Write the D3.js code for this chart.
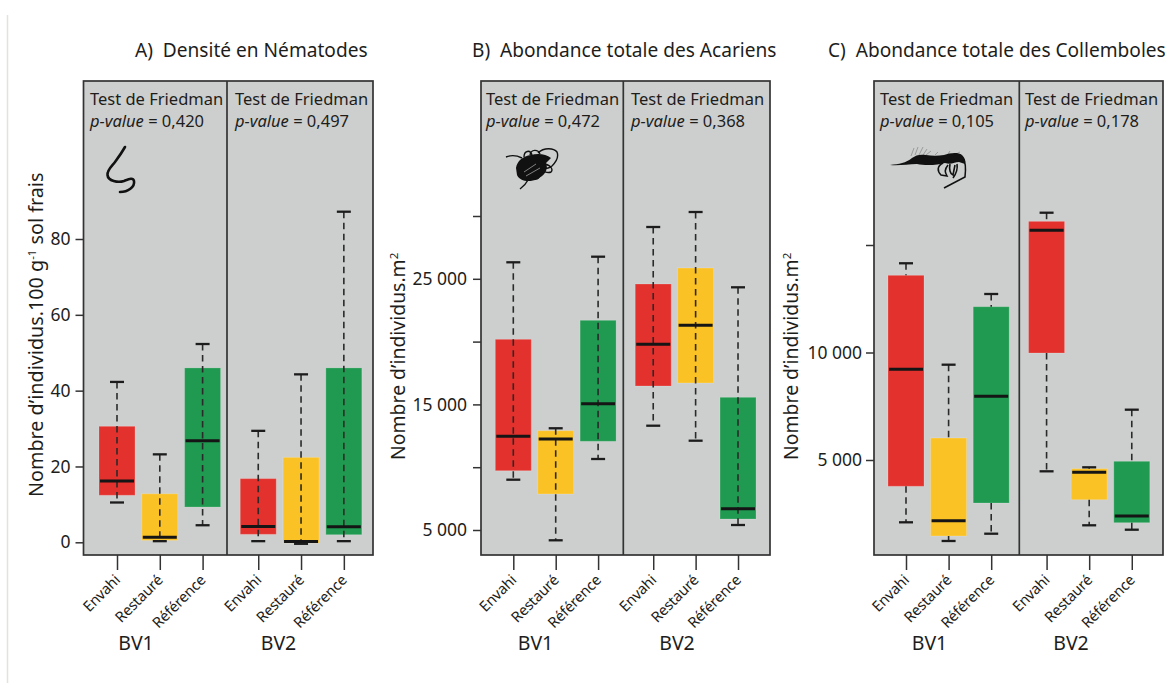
<!DOCTYPE html>
<html lang="fr"><head><meta charset="utf-8">
<script src="https://cdn.jsdelivr.net/npm/d3@7"></script>
<style>
html,body{margin:0;padding:0;background:#fff;overflow:hidden}
svg{display:block;font-family:"Noto Sans",sans-serif;fill:#1d1d1b}
text{white-space:pre}
</style></head><body>
<svg id="c" width="1165" height="683"></svg>
<script>
// ---- data ----
const categories = ["Envahi","Restauré","Référence","Envahi","Restauré","Référence"];
const basins = ["BV1","BV2"];
const boxColours = ["#e3312d","#fbc226","#1f9a50","#e3312d","#fbc226","#1f9a50"];

const nemaLow  = [10.5, 0.3, 4.5, 0.3, -0.4, 0.3];
const nemaQ1   = [12.4, 0.5, 9.3, 2.1, -0.2, 2.0];
const nemaMed  = [16.2, 1.3, 26.8, 4.2, 0.2, 4.1];
const nemaQ3   = [30.6, 12.8, 46.0, 16.8, 22.4, 46.0];
const nemaHigh = [42.3, 23.2, 52.3, 29.4, 44.3, 87.2];

const acarLow  = [9005, 4180, 10653, 13304, 12110, 5398];
const acarQ1   = [9720, 7866, 12062, 16465, 16704, 5876];
const acarMed  = [12460, 12245, 15056, 19785, 21300, 6696];
const acarQ3   = [20183, 12906, 21696, 24586, 25860, 15565];
const acarHigh = [26314, 13100, 26760, 29124, 30318, 24323];

const collLow  = [2102, 1233, 1572, 4474, 1963, 1758];
const collQ1   = [3777, 1465, 3000, 9977, 3153, 2084];
const collMed  = [9219, 2177, 7961, 15684, 4428, 2395];
const collQ3   = [13590, 6023, 12130, 16100, 4595, 4940];
const collHigh = [14150, 9433, 12721, 16502, 4660, 7340];

const nemaTicks = [0,20,40,60,80];
const acarTicks = [5000,10000,15000,20000,25000,30000];
const acarLabelled = [5000,15000,25000];
const collTicks = [5000,10000,15000];
const collLabelled = [5000,10000];

const pValues = {A:["0,420","0,497"],B:["0,472","0,368"],C:["0,105","0,178"]};

const panels = [
 {id:"A",title:"A)  Densité en Nématodes",titleX:135,left:83.5,right:373,divider:227,first:117,step:42.8,
  low:nemaLow,q1:nemaQ1,med:nemaMed,q3:nemaQ3,high:nemaHigh,
  dom:[0,80],rng:[542.3,239],ticks:nemaTicks,labelled:nemaTicks,through:true,
  yTitleX:43,yTitleY:497,yTitleSize:19.75,sup:"nema",noteX:[90,235],basinX:[136,278.5],pad:5},
 {id:"B",title:"B)  Abondance totale des Acariens",titleX:472,left:481,right:770,divider:623.3,first:513.3,step:42.4,
  low:acarLow,q1:acarQ1,med:acarMed,q3:acarQ3,high:acarHigh,
  dom:[5000,30000],rng:[530,216],ticks:acarTicks,labelled:acarLabelled,through:true,
  yTitleX:405,yTitleY:460,yTitleSize:19.4,sup:"m2",noteX:[486,631],basinX:[535.5,677],pad:6},
 {id:"C",title:"C)  Abondance totale des Collemboles",titleX:828,left:874,right:1163,divider:1019.3,first:906,step:42.6,
  low:collLow,q1:collQ1,med:collMed,q3:collQ3,high:collHigh,
  dom:[5000,15000],rng:[460,245],ticks:collTicks,labelled:collLabelled,through:false,
  yTitleX:798,yTitleY:460,yTitleSize:19.4,sup:"m2",noteX:[880,1025],basinX:[929.5,1071],pad:4}
];

const frameTop=81, frameBottom=555, boxW=36, medW=34, capW=14;
const svg=d3.select("#c");
svg.append("line").attr("x1",7.5).attr("x2",7.5).attr("y1",15).attr("y2",683).attr("stroke","#e4e2dc").attr("stroke-width",1.5);

const slot=i=>i+(i>=3?0.3:0);
const fmt=v=>String(v).replace(/\B(?=(\d{3})+$)/g," ");

panels.forEach(p=>{
  const g=svg.append("g");
  const y=d3.scaleLinear().domain(p.dom).range(p.rng);
  const x=d3.scaleLinear().domain([0,1]).range([p.first,p.first+p.step]);
  const X=i=>x(slot(i));

  g.append("text").attr("x",p.titleX).attr("y",57).attr("font-size",19.1).text(p.title);

  g.append("rect").attr("x",p.left).attr("y",frameTop).attr("width",p.right-p.left).attr("height",frameBottom-frameTop)
   .attr("fill","#cdcfce").attr("stroke","#333").attr("stroke-width",1.7);
  g.append("line").attr("x1",p.divider).attr("x2",p.divider).attr("y1",frameTop).attr("y2",frameBottom)
   .attr("stroke","#333").attr("stroke-width",1.7);

  const idx=d3.range(categories.length);
  // boxes
  g.selectAll("rect.box").data(idx).join("rect").attr("class","box")
   .attr("x",i=>X(i)-boxW/2).attr("width",boxW)
   .attr("y",i=>y(p.q3[i])).attr("height",i=>y(p.q1[i])-y(p.q3[i]))
   .attr("fill",i=>boxColours[i]).attr("stroke","#fff").attr("stroke-opacity",.2).attr("stroke-width",1);
  // whiskers
  const dash=(a,b)=>g.selectAll(null).data(idx).join("line")
   .attr("x1",X).attr("x2",X).attr("y1",a).attr("y2",b)
   .attr("stroke","#2a2a2a").attr("stroke-width",1.6).attr("stroke-dasharray","6.5 4.5");
  if(p.through){ dash(i=>y(p.high[i]),i=>y(p.low[i])); }
  else { dash(i=>y(p.high[i]),i=>y(p.q3[i])); dash(i=>y(p.q1[i]),i=>y(p.low[i])); }
  // caps
  [p.high,p.low].forEach(arr=>{
    g.selectAll(null).data(idx).join("line")
     .attr("x1",i=>X(i)-capW/2).attr("x2",i=>X(i)+capW/2)
     .attr("y1",i=>y(arr[i])).attr("y2",i=>y(arr[i]))
     .attr("stroke","#1c1c1c").attr("stroke-width",2.3);
  });
  // medians
  g.selectAll(null).data(idx).join("line")
   .attr("x1",i=>X(i)-medW/2).attr("x2",i=>X(i)+medW/2)
   .attr("y1",i=>y(p.med[i])).attr("y2",i=>y(p.med[i]))
   .attr("stroke","#151515").attr("stroke-width",3);

  // y axis
  const ya=g.append("g").attr("transform",`translate(${p.left},0)`)
   .call(d3.axisLeft(y).tickValues(p.ticks).tickSize(8).tickPadding(p.pad)
     .tickFormat(v=>p.labelled.includes(v)?fmt(v):""));
  ya.select(".domain").remove();
  ya.selectAll("line").attr("stroke","#333").attr("stroke-width",1.5);
  ya.selectAll("text").attr("font-size",17.5).attr("font-family","Noto Sans").attr("fill","#1d1d1b");

  // x axis
  const xa=g.append("g").attr("transform",`translate(0,${frameBottom})`)
   .call(d3.axisBottom(x).tickValues(idx.map(slot)).tickSize(15).tickFormat((v,i)=>categories[i]));
  xa.select(".domain").remove();
  xa.selectAll("line").attr("stroke","#333").attr("stroke-width",1.5);
  xa.selectAll("text").attr("font-size",14.8).attr("letter-spacing","-0.2px").attr("font-family","Noto Sans").attr("fill","#1d1d1b")
    .attr("text-anchor","end").attr("dy",0).attr("y",0)
    .attr("transform","translate(3.5,26) rotate(-45)");

  // basin labels
  g.selectAll(null).data(basins).join("text")
   .attr("x",(d,i)=>p.basinX[i]).attr("y",650).attr("text-anchor","middle").attr("font-size",19.5).text(d=>d);

  // Friedman notes
  p.noteX.forEach((tx,k)=>{
    g.append("text").attr("x",tx).attr("y",105).attr("font-size",16.5).text("Test de Friedman");
    const t=g.append("text").attr("x",tx).attr("y",127).attr("font-size",16.5);
    t.append("tspan").attr("font-style","italic").text("p-value");
    t.append("tspan").text(" = "+pValues[p.id][k]);
  });

  // y title
  const yt=g.append("text").attr("transform",`translate(${p.yTitleX},${p.yTitleY}) rotate(-90)`).attr("font-size",p.yTitleSize);
  if(p.sup==="nema"){
    yt.append("tspan").text("Nombre d’individus.100 g");
    yt.append("tspan").attr("font-size",11.5).attr("dy",-7).text("-1");
    yt.append("tspan").attr("dy",7).text(" sol frais");
  } else {
    yt.append("tspan").text("Nombre d’individus.m");
    yt.append("tspan").attr("font-size",11.5).attr("dy",-7).text("2");
  }
});

// ---- organism silhouettes ----
const ink="#111";
// nematode
svg.append("path").attr("fill","none").attr("stroke",ink).attr("stroke-width",2.6).attr("stroke-linecap","round")
 .attr("d","M125 147 C121 154 118 158 115 162 C112 166 107 170 107.5 175 C108 181 118 183 124 181 C129 179 133 177 134 181 C135 187 128 192 120 192");
// mite
const mite=svg.append("g");
mite.append("path").attr("fill",ink).attr("d","M516 168 C517 161 523 156 531 155 C538 153 546 154 551 158 L546 163 C549 170 544 176 537 179 C530 183 519 181 517 175 Z");
mite.append("path").attr("fill","none").attr("stroke",ink).attr("stroke-width",1.4)
 .attr("d","M522 158 C516 155 511 155 506 157 M524 157 C524 151 530 149 532 155 M530 155 C531 149 538 149 540 154 M538 153 C544 147 554 148 557 152 C559 157 556 162 552 166 C549 168 548 169 546 168 M545 164 C552 166 553 170 551 172 C547 174 543 170 541 172 C539 176 540 179 536 179 C533 180 532 177 532 176 M528 180 C526 184 524 186 520 189");
mite.selectAll(null).data([[524,172,536,164],[526,176,540,168]]).join("line")
 .attr("x1",d=>d[0]).attr("y1",d=>d[1]).attr("x2",d=>d[2]).attr("y2",d=>d[3]).attr("stroke","#cdcfce").attr("stroke-width",.6);
// springtail
const coll=svg.append("g");
coll.append("path").attr("fill","none").attr("stroke","#9a9c9c").attr("stroke-width",1)
 .attr("d","M911 156 L914 148 M915 155 L918 147 M919 155 L923 147 M923 155 L927 149 M926 155 L931 151 M935 155 L938 152 M948 154 L950 151 M956 154 L960 152");
coll.append("path").attr("fill",ink).attr("d","M890 165 C899 164 906 163 912 158 C916 155 920 154 926 155 C932 156 938 156 944 155 C950 153 958 152 962 155 C965 158 966 161 965 164 L959 162 C955 162 951 165 945 163 C938 165 926 166 917 164 C908 164 899 166 890 165 Z");
coll.append("path").attr("fill","none").attr("stroke",ink).attr("stroke-width",1.6)
 .attr("d","M963 159 C966 162 966 168 965 177 L944 188 M943 163 C937 166 937 171 941 175 L947 176 C945 172 944 170 948 165 M950 164 C949 169 950 174 953 175 L955 165 M957 164 C958 170 956 174 953 178");
</script>
</body></html>
